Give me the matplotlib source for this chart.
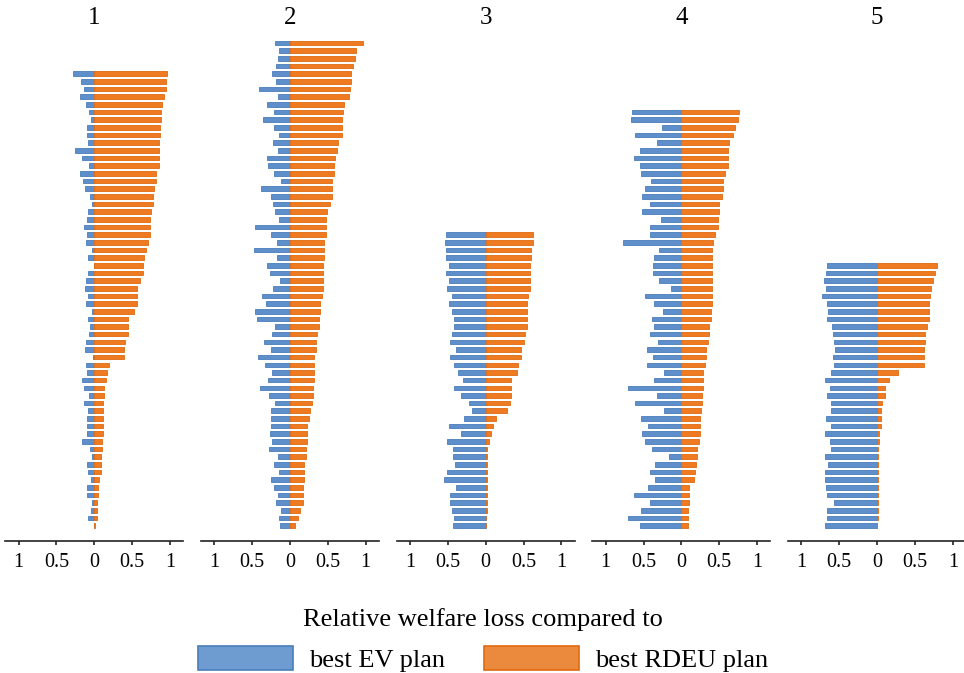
import numpy as np
import matplotlib
matplotlib.use("Agg")
import matplotlib.pyplot as plt
from matplotlib.patches import Patch

plt.rcParams["font.family"] = ["Liberation Serif", "DejaVu Serif"]

# values read top -> bottom for each panel
panel_labels = ["1", "2", "3", "4", "5"]

ev_1 = [0.28, 0.17, 0.13, 0.19, 0.11, 0.07, 0.04, 0.10, 0.10, 0.08,
        0.25, 0.16, 0.07, 0.19, 0.15, 0.12, 0.06, 0.03, 0.08, 0.10,
        0.13, 0.10, 0.11, 0.03, 0.08, 0.01, 0.08, 0.11, 0.12, 0.08,
        0.11, 0.03, 0.08, 0.06, 0.07, 0.11, 0.12, 0.02, 0.11, 0.10,
        0.16, 0.13, 0.07, 0.13, 0.08, 0.10, 0.10, 0.10, 0.16, 0.06,
        0.03, 0.10, 0.08, 0.04, 0.10, 0.10, 0.03, 0.04, 0.08, 0.01]
rdeu_1 = [0.96, 0.95, 0.95, 0.92, 0.90, 0.88, 0.88, 0.87, 0.87, 0.86,
          0.86, 0.85, 0.85, 0.82, 0.81, 0.79, 0.78, 0.77, 0.75, 0.73,
          0.73, 0.73, 0.71, 0.68, 0.65, 0.64, 0.64, 0.60, 0.57, 0.56,
          0.56, 0.52, 0.45, 0.45, 0.45, 0.40, 0.39, 0.39, 0.19, 0.17,
          0.16, 0.13, 0.13, 0.12, 0.12, 0.12, 0.12, 0.12, 0.10, 0.10,
          0.09, 0.09, 0.09, 0.06, 0.05, 0.05, 0.03, 0.03, 0.03, 0.01]

ev_2 = [0.20, 0.15, 0.16, 0.19, 0.24, 0.19, 0.41, 0.16, 0.30, 0.21,
        0.35, 0.21, 0.15, 0.23, 0.16, 0.30, 0.29, 0.21, 0.12, 0.38,
        0.25, 0.23, 0.20, 0.15, 0.46, 0.25, 0.17, 0.47, 0.17, 0.30,
        0.26, 0.13, 0.23, 0.37, 0.32, 0.46, 0.43, 0.20, 0.24, 0.34,
        0.25, 0.42, 0.33, 0.24, 0.29, 0.39, 0.28, 0.20, 0.25, 0.25,
        0.25, 0.26, 0.24, 0.28, 0.16, 0.21, 0.15, 0.25, 0.21, 0.16,
        0.19, 0.12, 0.15, 0.13]
rdeu_2 = [0.96, 0.87, 0.86, 0.83, 0.81, 0.81, 0.79, 0.78, 0.71, 0.70,
          0.69, 0.69, 0.68, 0.64, 0.62, 0.60, 0.58, 0.58, 0.56, 0.55,
          0.55, 0.53, 0.49, 0.48, 0.48, 0.48, 0.45, 0.45, 0.45, 0.44,
          0.44, 0.43, 0.43, 0.42, 0.40, 0.39, 0.38, 0.38, 0.35, 0.34,
          0.34, 0.32, 0.32, 0.32, 0.32, 0.31, 0.30, 0.29, 0.26, 0.25,
          0.23, 0.23, 0.22, 0.21, 0.21, 0.19, 0.18, 0.18, 0.17, 0.17,
          0.17, 0.13, 0.10, 0.06]

ev_3 = [0.52, 0.54, 0.52, 0.52, 0.49, 0.53, 0.49, 0.51, 0.45, 0.49,
        0.45, 0.42, 0.42, 0.45, 0.47, 0.39, 0.47, 0.42, 0.36, 0.30,
        0.42, 0.32, 0.22, 0.18, 0.29, 0.49, 0.32, 0.51, 0.43, 0.43,
        0.40, 0.51, 0.55, 0.39, 0.47, 0.47, 0.45, 0.42, 0.43]
rdeu_3 = [0.63, 0.63, 0.60, 0.60, 0.59, 0.59, 0.59, 0.58, 0.56, 0.55,
          0.55, 0.54, 0.54, 0.52, 0.50, 0.47, 0.46, 0.43, 0.41, 0.34,
          0.33, 0.33, 0.32, 0.28, 0.13, 0.10, 0.07, 0.04, 0.02, 0.02,
          0.02, 0.02, 0.02, 0.02, 0.02, 0.02, 0.02, 0.01, 0.01]

ev_4 = [0.65, 0.67, 0.26, 0.61, 0.32, 0.54, 0.63, 0.54, 0.53, 0.40,
        0.48, 0.52, 0.41, 0.52, 0.27, 0.42, 0.41, 0.77, 0.29, 0.36,
        0.37, 0.37, 0.29, 0.14, 0.48, 0.36, 0.24, 0.39, 0.36, 0.42,
        0.31, 0.45, 0.37, 0.46, 0.23, 0.36, 0.71, 0.32, 0.61, 0.23,
        0.53, 0.44, 0.52, 0.48, 0.39, 0.16, 0.35, 0.42, 0.35, 0.44,
        0.63, 0.41, 0.53, 0.71, 0.55]
rdeu_4 = [0.76, 0.75, 0.71, 0.68, 0.63, 0.62, 0.62, 0.61, 0.57, 0.55,
          0.55, 0.54, 0.50, 0.49, 0.48, 0.48, 0.45, 0.42, 0.41, 0.41,
          0.41, 0.40, 0.40, 0.40, 0.40, 0.40, 0.39, 0.39, 0.37, 0.36,
          0.35, 0.33, 0.32, 0.31, 0.29, 0.29, 0.28, 0.27, 0.27, 0.26,
          0.24, 0.24, 0.24, 0.23, 0.20, 0.20, 0.19, 0.18, 0.16, 0.10,
          0.10, 0.10, 0.09, 0.09, 0.09]

ev_5 = [0.66, 0.68, 0.70, 0.68, 0.73, 0.66, 0.65, 0.66, 0.60, 0.58,
        0.57, 0.56, 0.58, 0.57, 0.61, 0.69, 0.62, 0.66, 0.61, 0.61,
        0.68, 0.61, 0.69, 0.62, 0.61, 0.69, 0.65, 0.69, 0.69, 0.68,
        0.66, 0.57, 0.66, 0.66, 0.69]
rdeu_5 = [0.79, 0.77, 0.74, 0.71, 0.70, 0.68, 0.68, 0.68, 0.66, 0.63,
          0.63, 0.62, 0.62, 0.62, 0.28, 0.16, 0.11, 0.10, 0.06, 0.05,
          0.05, 0.05, 0.02, 0.02, 0.01, 0.01, 0.01, 0.01, 0.01, 0.01,
          0.01, 0.01, 0.01, 0.01, 0.005]

ev_all = [ev_1, ev_2, ev_3, ev_4, ev_5]
rdeu_all = [rdeu_1, rdeu_2, rdeu_3, rdeu_4, rdeu_5]

tick_pos = [-1, -0.5, 0, 0.5, 1]
tick_txt = ["1", "0.5", "0", "0.5", "1"]

BLUE, BLUE_EDGE = "#5F8FCB", "#4A7EBB"
ORANGE, ORANGE_EDGE = "#EE7A22", "#E06A10"

W, H = 964, 673
fig = plt.figure(figsize=(W / 100, H / 100), dpi=100)

for i in range(5):
    cx = 94.3 + 195.7 * i
    ax = fig.add_axes([(cx - 89) / W, 1 - 540.7 / H, 178 / W, (540.7 - 35) / H])
    ev = np.array(ev_all[i])[::-1]
    rd = np.array(rdeu_all[i])[::-1]
    y = np.arange(len(ev))
    ax.barh(y, -ev, height=0.6, color=BLUE, edgecolor=BLUE_EDGE, lw=0.6)
    ax.barh(y, rd, height=0.6, color=ORANGE, edgecolor=ORANGE_EDGE, lw=0.6)
    ax.set_xlim(-1.175, 1.175)
    ax.set_ylim(-1.96, 64.06)
    for s in ["top", "left", "right"]:
        ax.spines[s].set_visible(False)
    ax.spines["bottom"].set_linewidth(1.2)
    ax.spines["bottom"].set_color("#222222")
    ax.set_yticks([])
    ax.set_xticks(tick_pos)
    ax.set_xticklabels(tick_txt, fontsize=14.5)
    ax.tick_params(axis="x", direction="out", length=3, width=1.2, pad=6,
                   color="#222222")
    fig.text(cx / W, 1 - 18.5 / H, panel_labels[i], ha="center", va="center",
             fontsize=18)

handles = [Patch(facecolor="#6E9BD0", edgecolor="#4A7EBB", lw=1.2),
           Patch(facecolor="#EB8A3C", edgecolor="#E06A10", lw=1.2)]
leg = fig.legend(handles, ["best EV plan", "best RDEU plan"], ncol=2,
                 loc="lower center", bbox_to_anchor=(483 / W, -0.026),
                 title="Relative welfare loss compared to", title_fontsize=19,
                 fontsize=19, frameon=False, handlelength=3.6,
                 handleheight=1.0, handletextpad=0.6, columnspacing=1.5,
                 borderpad=0.2, labelspacing=0.2)
leg._legend_box.sep = 11

fig.savefig("out.png", dpi=100)
plt.close(fig)
